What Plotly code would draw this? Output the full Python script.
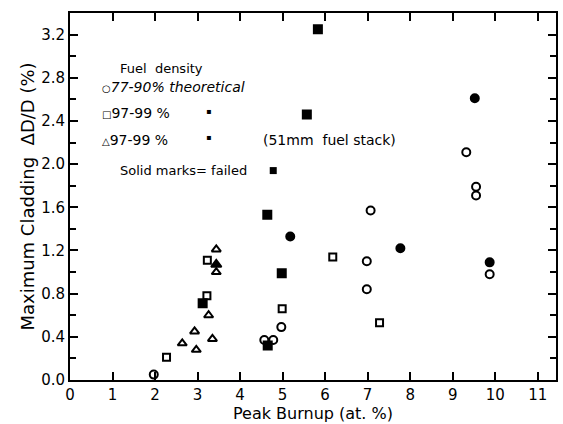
import plotly.graph_objects as go

# Data (Peak burnup at.%, max cladding dD/D %)
circ_open_x = [1.97, 4.57, 4.78, 4.97, 7.07, 6.98, 6.98, 9.32, 9.55, 9.55, 9.87]
circ_open_y = [0.05, 0.37, 0.37, 0.49, 1.57, 1.10, 0.84, 2.11, 1.79, 1.71, 0.98]
circ_fill_x = [5.18, 7.77, 9.52, 9.87]
circ_fill_y = [1.33, 1.22, 2.61, 1.09]
sq_open_x = [2.27, 3.22, 3.23, 4.99, 6.18, 7.28]
sq_open_y = [0.21, 0.78, 1.11, 0.66, 1.14, 0.53]
sq_fill_x = [3.12, 4.65, 4.64, 4.98, 5.57, 5.83]
sq_fill_y = [0.71, 0.32, 1.53, 0.99, 2.46, 3.25]
tri_open_x = [2.64, 2.93, 2.97, 3.35, 3.26, 3.44, 3.44]
tri_open_y = [0.34, 0.45, 0.28, 0.38, 0.60, 1.21, 1.00]
tri_fill_x = [3.44]
tri_fill_y = [1.07]

x_ticks = list(range(0, 12))
y_ticks = [0.0, 0.4, 0.8, 1.2, 1.6, 2.0, 2.4, 2.8, 3.2]
y_ticklabels = ["0.0", "0.4", "0.8", "1.2", "1.6", "2.0", "2.4", "2.8", "3.2"]

FONT = "DejaVu Sans"
fig = go.Figure()

def add(x, y, symbol, size):
    fig.add_trace(go.Scatter(
        x=x, y=y, mode="markers",
        marker=dict(symbol=symbol, size=size, color="black",
                    line=dict(color="black", width=2)),
        showlegend=False, hoverinfo="skip"))

add(circ_open_x, circ_open_y, "circle-open", 8)
add(circ_fill_x, circ_fill_y, "circle", 8)
add(sq_open_x, sq_open_y, "square-open", 7)
add(sq_fill_x, sq_fill_y, "square", 8)
add(tri_open_x, tri_open_y, "triangle-up-open", 8)
add(tri_fill_x, tri_fill_y, "triangle-up", 9)

def note(x, y, text, size=13):
    fig.add_annotation(x=x, y=y, xref="x", yref="y", text=text, showarrow=False,
                       xanchor="left", yanchor="middle",
                       font=dict(family=FONT, size=size, color="black"))

def sym(ch):
    return f'<span style="font-size:10px">{ch}</span>'

note(1.12, 2.89, "Fuel  density", 13)
note(0.70, 2.71, sym("○") + "<i>77-90% theoretical</i>", 14)
note(0.70, 2.47, sym("□") + "97-99 %", 14)
note(3.14, 2.49, "▪", 8)
note(0.70, 2.22, sym("△") + "97-99 %", 14)
note(3.14, 2.25, "▪", 8)
note(4.50, 2.22, "(51mm  fuel stack)", 14)
note(1.12, 1.94, "Solid marks= failed", 13)
fig.add_trace(go.Scatter(x=[4.78], y=[1.94], mode="markers",
                         marker=dict(symbol="square", size=7, color="black"),
                         showlegend=False, hoverinfo="skip"))

axis_common = dict(showline=True, linecolor="black", linewidth=2, mirror="ticks",
                   ticks="inside", ticklen=8, tickwidth=2, tickcolor="black",
                   showgrid=False, zeroline=False,
                   tickfont=dict(family=FONT, size=15, color="black"))

fig.update_xaxes(range=[0, 11.43], tickvals=x_ticks, ticktext=[str(v) for v in x_ticks],
                 title=dict(text="Peak Burnup (at. %)", font=dict(family=FONT, size=16, color="black"),
                            standoff=2),
                 **axis_common)
fig.update_yaxes(range=[0, 3.40], tickvals=y_ticks, ticktext=y_ticklabels,
                 minor=dict(tickvals=[0.2, 0.6, 1.0, 1.4, 1.8, 2.2, 2.6, 3.0], ticklen=6,
                            tickwidth=2, tickcolor="black", ticks="inside"),
                 title=dict(text="Maximum Cladding  ΔD/D (%)", font=dict(family=FONT, size=18, color="black"),
                            standoff=2),
                 **axis_common)

fig.update_layout(width=563, height=424, margin=dict(l=70, r=5, t=13, b=44),
                  plot_bgcolor="white", paper_bgcolor="white")

fig.write_html("out.html")
